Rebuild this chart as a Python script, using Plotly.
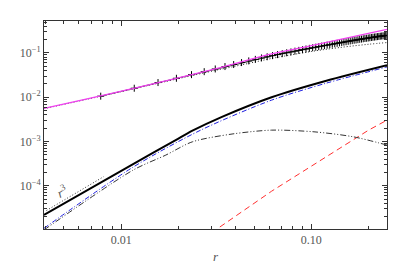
import math
import plotly.graph_objects as go

# ---------------- data ----------------
# black "+" markers (evenly spaced in r)
cross_r = [0.00781, 0.01172, 0.01563, 0.01953, 0.02344, 0.02734, 0.03125, 0.03516,
           0.03906, 0.04297, 0.04688, 0.05078, 0.05469, 0.05859, 0.06250, 0.06641,
           0.07031, 0.07422, 0.07813, 0.08203, 0.08594, 0.08984, 0.09375, 0.09766,
           0.1016, 0.1055, 0.1094, 0.1133, 0.1172, 0.1211, 0.1250, 0.1289,
           0.1328, 0.1367, 0.1406, 0.1445, 0.1484, 0.1523, 0.1563, 0.1602,
           0.1641, 0.1680, 0.1719, 0.1758, 0.1797, 0.1836, 0.1875, 0.1914,
           0.1953, 0.1992, 0.2031, 0.2070, 0.2109, 0.2148, 0.2188, 0.2227,
           0.2266, 0.2305, 0.2344, 0.2383, 0.2422, 0.2461, 0.2500]
cross_v = [0.01055, 0.01594, 0.02141, 0.02676, 0.03234, 0.03773, 0.04344, 0.04922,
           0.05469, 0.06059, 0.06609, 0.07160, 0.07711, 0.08203, 0.08688, 0.09164,
           0.09633, 0.1009, 0.1055, 0.1099, 0.1143, 0.1186, 0.1228, 0.1270,
           0.1310, 0.1350, 0.1389, 0.1427, 0.1465, 0.1502, 0.1538, 0.1576,
           0.1615, 0.1651, 0.1689, 0.1725, 0.1761, 0.1796, 0.1831, 0.1866,
           0.1900, 0.1933, 0.1965, 0.1997, 0.2029, 0.2060, 0.2090, 0.2119,
           0.2148, 0.2177, 0.2206, 0.2234, 0.2259, 0.2286, 0.2312, 0.2338,
           0.2363, 0.2388, 0.2412, 0.2433, 0.2456, 0.2478, 0.2500]

magenta_r = [0.00393, 0.0118, 0.0312, 0.0618, 0.100, 0.250]
magenta_v = [0.00557, 0.0160, 0.0435, 0.0950, 0.146, 0.340]

dotted_r = [0.00393, 0.0078, 0.0118, 0.0194, 0.031, 0.045, 0.0618, 0.100, 0.150, 0.200, 0.250]
dotted_v = [0.0055, 0.0105, 0.0157, 0.0255, 0.040, 0.056, 0.075, 0.108, 0.137, 0.157, 0.172]

black_r = [0.00393, 0.01306, 0.01936, 0.02371, 0.0339, 0.0618, 0.120, 0.250]
black_v = [2.18e-5, 4.15e-4, 1.07e-3, 1.75e-3, 3.6e-3, 1.0e-2, 2.36e-2, 5.28e-2]

blue_r = [0.00393, 0.01158, 0.0262, 0.0618, 0.120, 0.250]
blue_v = [1.09e-5, 2.64e-4, 1.80e-3, 8.57e-3, 2.08e-2, 4.83e-2]

gray_r = [0.00393, 0.01158, 0.01718, 0.02371, 0.0383, 0.0618, 0.1033, 0.1667, 0.250]
gray_v = [1.0e-5, 2.26e-4, 4.92e-4, 9.82e-4, 1.47e-3, 1.80e-3, 1.65e-3, 1.27e-3, 8.28e-4]

red_r = [0.030, 0.0329, 0.0618, 0.200, 0.250]
red_v = [8.5e-6, 1.15e-5, 7.5e-5, 1.80e-3, 3.03e-3]

guide_r = [0.00405, 0.00809]
guide_v = [2.75e-5, 1.60e-4]

x_range = [0.00393, 0.25]
y_range = [1.05e-5, 0.527]

x_major = [0.01, 0.1]
x_major_text = ["0.01", "0.10"]
y_major = [1e-5, 1e-4, 1e-3, 1e-2, 1e-1]
y_major_text = ["10<sup>\u22125</sup>", "10<sup>\u22124</sup>", "10<sup>\u22123</sup>",
                "10<sup>\u22122</sup>", "10<sup>\u22121</sup>"]
minor_digits = [2, 3, 4, 5, 6, 7, 8, 9]

# ---------------- figure ----------------
x_minor = [d * 10 ** e for e in (-3, -2, -1) for d in minor_digits]
y_minor = [d * 10 ** e for e in (-6, -5, -4, -3, -2, -1) for d in minor_digits]

fig = go.Figure()
fig.add_trace(go.Scatter(x=red_r, y=red_v, mode="lines",
                         line=dict(color="#ff3030", width=1, dash="6px,4px")))
fig.add_trace(go.Scatter(x=gray_r, y=gray_v, mode="lines",
                         line=dict(color="#333333", width=1, shape="spline", smoothing=0.8,
                                   dash="6px,2px,1px,2px,1px,2px")))
fig.add_trace(go.Scatter(x=blue_r, y=blue_v, mode="lines",
                         line=dict(color="#2020e0", width=1, shape="spline", smoothing=0.8,
                                   dash="5px,2px,1px,2px")))
fig.add_trace(go.Scatter(x=black_r, y=black_v, mode="lines",
                         line=dict(color="black", width=2, shape="spline", smoothing=0.8)))
fig.add_trace(go.Scatter(x=guide_r, y=guide_v, mode="lines",
                         line=dict(color="#333333", width=1, dash="1px,2px")))
fig.add_trace(go.Scatter(x=dotted_r, y=dotted_v, mode="lines",
                         line=dict(color="#222222", width=1, shape="spline",
                                   dash="1px,2px")))
fig.add_trace(go.Scatter(x=cross_r, y=cross_v, mode="lines+markers",
                         line=dict(color="black", width=0.8),
                         marker=dict(symbol="cross-thin", size=5,
                                     line=dict(color="black", width=1))))
fig.add_trace(go.Scatter(x=magenta_r, y=magenta_v, mode="lines",
                         line=dict(color="#f040f0", width=1.2, shape="spline")))

axis_common = dict(type="log", showgrid=False, zeroline=False, showline=True,
                   linecolor="#333333", linewidth=1, mirror="ticks",
                   ticks="inside", ticklen=5, tickwidth=1, tickcolor="#333333",
                   tickfont=dict(family="Liberation Serif", size=12, color="#555555"))

fig.update_xaxes(range=[math.log10(x_range[0]), math.log10(x_range[1])],
                 tickmode="array", tickvals=x_major, ticktext=x_major_text,
                 minor=dict(tickmode="array", tickvals=x_minor, ticks="inside",
                            ticklen=3, tickcolor="#333333"),
                 **axis_common)
fig.update_yaxes(range=[math.log10(y_range[0]), math.log10(y_range[1])],
                 tickmode="array", tickvals=y_major, ticktext=y_major_text,
                 minor=dict(tickmode="array", tickvals=y_minor, ticks="inside",
                            ticklen=3, tickcolor="#333333"),
                 **axis_common)

fig.add_annotation(x=0.5, y=0, xref="paper", yref="paper", yshift=-27,
                   text="<i>r</i>", showarrow=False, yanchor="middle",
                   font=dict(family="Liberation Serif", size=13, color="#555555"))
fig.add_annotation(x=math.log10(0.0049), y=math.log10(7.5e-5), xref="x", yref="y",
                   text="<i>r</i><sup>3</sup>", showarrow=False, textangle=-25,
                   font=dict(family="Liberation Serif", size=13, color="#555555"))

# page body adds an 8px margin, so the figure is sized to fit the window
fig.update_layout(width=399, height=263, showlegend=False,
                  margin=dict(l=31.5, r=20, t=12.7, b=42),
                  plot_bgcolor="white", paper_bgcolor="white")

fig.write_html("out.html")
